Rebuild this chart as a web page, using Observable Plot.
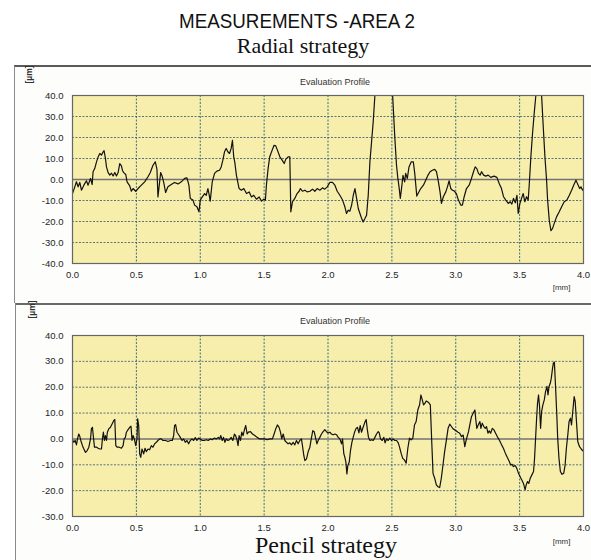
<!DOCTYPE html>
<html>
<head>
<meta charset="utf-8">
<script src="https://cdn.jsdelivr.net/npm/d3@7"></script>
<script src="https://cdn.jsdelivr.net/npm/@observablehq/plot@0.6"></script>
<style>
  html, body { margin: 0; padding: 0; background: #ffffff; }
  #page { position: relative; width: 591px; height: 560px; overflow: hidden; background: #ffffff; }
  .panel { position: absolute; background: #fdfdfb; }
  #panelTop { left: 14px; top: 65px; width: 577px; height: 236px; border-top: 2px solid #5a5a5a; border-left: 1px solid #8a8a8a; }
  #panelBottom { left: 15px; top: 303px; width: 576px; height: 257px; border-top: 2px solid #6a6a6a; border-left: 1px solid #8a8a8a; }
  .plotHost { position: absolute; left: 0; }
  #header, #footer { position: absolute; left: 0; top: 0; pointer-events: none; }
</style>
</head>
<body>
<div id="page">
  <div class="panel" id="panelTop"></div>
  <div class="panel" id="panelBottom"></div>
  <div class="plotHost" id="plotTop" style="top:66px"></div>
  <div class="plotHost" id="plotBottom" style="top:304px"></div>
</div>
<script>
// Evaluation profile, radial strategy: position along the trace [mm] and height [µm]
const radialX = [
  0, 0.018, 0.031, 0.044, 0.057, 0.070, 0.089, 0.109, 0.122, 0.141, 0.154, 0.161, 0.174, 0.188, 0.201, 0.214,
  0.227, 0.240, 0.247, 0.258, 0.266, 0.279, 0.292, 0.305, 0.318, 0.331, 0.344, 0.357, 0.370, 0.383, 0.391, 0.401,
  0.417, 0.427, 0.448, 0.461, 0.474, 0.495, 0.513, 0.539, 0.565, 0.591, 0.609, 0.630, 0.648, 0.661, 0.669, 0.682,
  0.690, 0.701, 0.714, 0.729, 0.747, 0.773, 0.799, 0.826, 0.852, 0.878, 0.896, 0.911, 0.922, 0.943, 0.956, 0.974,
  0.990, 1.000, 1.016, 1.034, 1.047, 1.060, 1.068, 1.078, 1.094, 1.112, 1.130, 1.151, 1.164, 1.177, 1.190, 1.203,
  1.216, 1.229, 1.242, 1.252, 1.262, 1.270, 1.283, 1.304, 1.322, 1.341, 1.362, 1.383, 1.401, 1.419, 1.440, 1.461,
  1.479, 1.497, 1.510, 1.518, 1.531, 1.544, 1.563, 1.578, 1.591, 1.604, 1.623, 1.641, 1.657, 1.670, 1.688, 1.701,
  1.709, 1.722, 1.740, 1.758, 1.774, 1.784, 1.800, 1.819, 1.837, 1.858, 1.879, 1.897, 1.915, 1.936, 1.957, 1.975,
  1.994, 2.014, 2.035, 2.054, 2.072, 2.093, 2.114, 2.132, 2.145, 2.158, 2.171, 2.185, 2.198, 2.211, 2.224, 2.237,
  2.250, 2.262, 2.275, 2.289, 2.302, 2.315, 2.328, 2.341, 2.354, 2.367, 2.380, 2.410, 2.450, 2.480, 2.500, 2.506,
  2.523, 2.536, 2.546, 2.556, 2.566, 2.577, 2.587, 2.600, 2.608, 2.621, 2.634, 2.652, 2.668, 2.679, 2.695, 2.705,
  2.726, 2.747, 2.765, 2.783, 2.799, 2.817, 2.835, 2.849, 2.862, 2.877, 2.888, 2.903, 2.922, 2.935, 2.948, 2.961,
  2.974, 2.987, 3.005, 3.021, 3.039, 3.052, 3.066, 3.084, 3.105, 3.123, 3.139, 3.152, 3.165, 3.178, 3.191, 3.202,
  3.218, 3.235, 3.254, 3.274, 3.300, 3.322, 3.340, 3.358, 3.374, 3.392, 3.411, 3.426, 3.439, 3.452, 3.466, 3.479,
  3.489, 3.502, 3.515, 3.528, 3.541, 3.554, 3.567, 3.575, 3.588, 3.601, 3.614, 3.627, 3.640, 3.655, 3.665, 3.672,
  3.685, 3.698, 3.711, 3.719, 3.732, 3.745, 3.758, 3.771, 3.789, 3.810, 3.829, 3.849, 3.870, 3.889, 3.907, 3.923,
  3.941, 3.954, 3.970, 3.980, 3.993, 4.000
];
const radialY = [
  -6.7, -3.5, -1.1, -3.5, -1.4, -5.1, -2.7, -0.6, -2.7, 0.5, -2.4, 3.7, 5.2, 8.4, 10.8, 12.4,
  11.6, 13.2, 13.7, 10.0, 6.0, 3.3, 2.1, 3.0, 1.7, 3.3, 1.7, 3.3, 7.6, 6.5, 4.3, 3.3,
  2.4, -1.1, -3.0, -5.6, -4.3, -5.6, -4.3, -2.7, -1.1, 1.3, 3.3, 6.8, 8.4, 4.9, -8.3, -1.1,
  3.3, 1.7, -1.4, -6.2, -3.5, -2.4, -1.4, -2.1, -1.1, 0.5, 0.8, -2.7, -9.0, -9.8, -12.2, -13.0,
  -15.4, -9.8, -8.3, -6.7, -7.5, -4.3, -6.7, -10.3, -1.1, 2.9, 4.0, 4.4, 6.0, 9.2, 13.2, 14.8,
  13.2, 12.4, 14.8, 18.7, 10.8, 8.4, 2.1, -4.3, -5.1, -4.3, -6.7, -5.9, -8.3, -7.5, -9.4, -8.3,
  -10.3, -9.4, -9.8, -2.7, 5.2, 10.8, 14.0, 16.3, 16.0, 14.0, 10.8, 9.2, 7.6, 9.7, 10.8, 10.8,
  -15.4, -10.6, -9.0, -6.7, -5.6, -4.3, -5.6, -5.1, -5.9, -5.6, -4.6, -5.6, -4.3, -5.1, -4.0, -4.6,
  -3.5, -1.4, -1.4, -2.7, -5.6, -7.5, -9.8, -13.0, -16.2, -14.6, -15.1, -12.2, -7.5, -4.3, -9.0, -13.8,
  -16.2, -18.3, -20.2, -18.6, -17.0, -7.5, 8.4, 17.9, 27.5, 40.0, 52.0, 60.0, 63.0, 60.0, 46.0, 40.0,
  20.0, 7.0, 1.0, -3.5, -9.0, -3.5, 2.0, -1.1, 2.9, 0.5, 6.0, 8.4, 8.4, 2.9, -7.9, -6.7,
  -4.3, -2.7, -0.3, 2.1, 3.7, 4.4, 4.8, 3.7, -0.3, -5.9, -11.4, -8.2, -5.9, -3.5, -0.6, -4.3,
  -5.1, -5.4, -6.7, -9.8, -12.2, -12.2, -8.2, -4.3, -2.7, 0.5, 3.7, 6.0, 5.2, 2.9, 2.1, 3.7,
  2.1, 1.6, 2.1, 1.0, 1.6, 1.0, -1.9, -4.3, -8.2, -9.8, -11.4, -10.6, -11.7, -9.0, -11.1, -7.5,
  -16.2, -11.4, -9.0, -6.7, -10.6, -8.2, -9.8, -2.7, 10.8, 21.9, 31.4, 40.0, 49.0, 53.0, 48.0, 40.0,
  25.0, 10.8, -0.3, -9.8, -19.4, -24.4, -23.3, -20.9, -17.8, -15.4, -13.0, -10.6, -9.8, -7.5, -5.1, -2.7,
  -0.3, -2.2, -4.3, -3.5, -5.1, -4.3
];

// Evaluation profile, pencil strategy: position [mm] and height [µm]
const pencilX = [
  0, 0.010, 0.021, 0.031, 0.039, 0.049, 0.057, 0.065, 0.078, 0.089, 0.102, 0.115, 0.128, 0.141, 0.148, 0.156,
  0.164, 0.172, 0.188, 0.201, 0.214, 0.227, 0.234, 0.242, 0.250, 0.258, 0.266, 0.273, 0.284, 0.297, 0.310, 0.323,
  0.331, 0.339, 0.349, 0.365, 0.383, 0.396, 0.404, 0.414, 0.422, 0.435, 0.448, 0.458, 0.466, 0.474, 0.484, 0.495,
  0.505, 0.510, 0.518, 0.526, 0.534, 0.544, 0.557, 0.568, 0.578, 0.591, 0.604, 0.617, 0.630, 0.643, 0.656, 0.669,
  0.682, 0.695, 0.708, 0.729, 0.747, 0.766, 0.781, 0.792, 0.799, 0.807, 0.818, 0.831, 0.844, 0.857, 0.870, 0.883,
  0.896, 0.909, 0.922, 0.935, 0.948, 0.961, 0.974, 0.987, 1.000, 1.016, 1.031, 1.047, 1.063, 1.078, 1.094, 1.109,
  1.125, 1.141, 1.151, 1.161, 1.172, 1.182, 1.193, 1.203, 1.216, 1.229, 1.242, 1.255, 1.268, 1.276, 1.286, 1.296,
  1.304, 1.315, 1.325, 1.335, 1.346, 1.356, 1.367, 1.377, 1.393, 1.409, 1.427, 1.445, 1.466, 1.487, 1.505, 1.523,
  1.544, 1.565, 1.578, 1.591, 1.604, 1.617, 1.628, 1.638, 1.649, 1.662, 1.675, 1.688, 1.701, 1.714, 1.727, 1.740,
  1.753, 1.766, 1.779, 1.792, 1.800, 1.811, 1.819, 1.832, 1.845, 1.858, 1.871, 1.881, 1.892, 1.902, 1.913, 1.923,
  1.936, 1.949, 1.962, 1.975, 1.988, 2.001, 2.014, 2.027, 2.040, 2.054, 2.067, 2.080, 2.093, 2.106, 2.114, 2.124,
  2.132, 2.140, 2.148, 2.155, 2.166, 2.176, 2.187, 2.197, 2.208, 2.218, 2.231, 2.242, 2.252, 2.262, 2.275, 2.289,
  2.299, 2.307, 2.317, 2.328, 2.341, 2.354, 2.367, 2.380, 2.393, 2.401, 2.411, 2.424, 2.437, 2.447, 2.458, 2.471,
  2.484, 2.497, 2.510, 2.523, 2.537, 2.550, 2.559, 2.572, 2.585, 2.598, 2.612, 2.625, 2.638, 2.651, 2.664, 2.677,
  2.690, 2.703, 2.717, 2.727, 2.738, 2.748, 2.759, 2.769, 2.785, 2.801, 2.811, 2.822, 2.835, 2.848, 2.861, 2.874,
  2.887, 2.900, 2.913, 2.927, 2.940, 2.953, 2.966, 2.979, 2.992, 3.005, 3.018, 3.031, 3.045, 3.058, 3.071, 3.079,
  3.089, 3.100, 3.110, 3.123, 3.136, 3.150, 3.157, 3.165, 3.176, 3.189, 3.197, 3.207, 3.220, 3.231, 3.241, 3.252,
  3.262, 3.273, 3.286, 3.299, 3.312, 3.325, 3.341, 3.357, 3.373, 3.388, 3.404, 3.420, 3.430, 3.441, 3.451, 3.465,
  3.478, 3.491, 3.504, 3.517, 3.530, 3.543, 3.551, 3.562, 3.572, 3.583, 3.596, 3.609, 3.617, 3.625, 3.633, 3.640,
  3.648, 3.656, 3.664, 3.672, 3.682, 3.693, 3.703, 3.714, 3.722, 3.730, 3.740, 3.748, 3.756, 3.764, 3.772, 3.780,
  3.790, 3.798, 3.808, 3.819, 3.832, 3.845, 3.856, 3.866, 3.877, 3.887, 3.898, 3.906, 3.916, 3.927, 3.935, 3.945,
  3.955, 3.969, 3.982, 3.995
];
const pencilY = [
  -0.3, -1.3, -0.6, -2.3, 0.0, 1.9, 1.0, -0.6, -2.6, -3.9, -5.2, -4.5, -3.2, 0.0, 3.9, 4.5,
  0.6, -3.2, -3.2, -3.6, -3.9, -3.9, 0.0, 2.6, -0.6, 1.3, -0.6, 2.6, 3.9, 4.5, 5.8, 7.1,
  7.5, -2.6, -3.2, -3.2, -3.6, -2.6, 0.0, 0.6, 2.6, 3.6, 4.5, 4.9, -0.6, 1.3, 0.0, -2.6,
  0.0, 7.8, 5.2, -5.8, -7.1, -3.9, -5.8, -3.6, -4.9, -3.9, -4.2, -2.6, -3.2, -1.9, -1.3, -0.6,
  0.0, 0.0, -0.6, -0.6, -1.0, -0.6, -0.6, 1.3, 5.2, 5.5, 2.6, 1.6, 0.6, -0.6, 0.0, -1.3,
  -0.6, -1.9, -0.6, 0.0, -0.6, 0.5, -0.6, 0.3, 0.0, -0.6, -0.6, -0.3, -0.6, 0.0, -0.3, 0.3,
  0.0, 0.6, 0.0, 1.3, -0.6, 0.6, -1.3, 0.0, -0.6, -0.3, 0.6, -0.6, 1.9, 1.3, 0.0, -2.6,
  1.3, -0.6, 2.6, 1.3, 3.6, 5.2, 1.9, 2.6, 2.8, 1.9, 1.3, 0.6, 0.0, 0.0, 0.0, -0.3,
  0.0, 0.0, 1.9, 3.9, 5.4, 4.5, 2.6, 0.0, 1.9, -0.6, -1.3, -1.9, -1.5, -2.3, -1.3, -2.3,
  -0.6, -1.9, -0.6, 0.0, -2.6, -6.5, -8.4, -7.7, -4.9, -3.2, 0.6, 3.2, 2.8, 0.6, -1.9, -0.6,
  0.6, 1.9, 2.8, 3.6, 2.8, 2.3, 2.6, 1.9, 1.6, 1.9, 1.6, 0.6, 0.0, -1.9, 0.0, -5.8,
  -7.1, -9.0, -13.5, -10.3, -9.0, -4.5, -1.3, 0.6, 2.6, 3.9, 4.5, 2.3, 5.2, 2.6, 4.5, 6.5,
  7.5, 3.9, 0.6, -0.6, -0.3, -0.6, 0.6, 1.9, 2.8, 2.3, 0.0, -0.6, 0.6, -1.5, 0.0, -0.6,
  0.3, -0.6, 0.0, -0.6, -0.6, -1.5, -3.0, -5.5, -7.5, -8.1, -9.4, -3.6, 0.3, -0.4, 0.3, 5.4,
  6.7, 11.2, 13.2, 17.0, 15.1, 13.2, 13.8, 14.7, 14.2, 13.2, 0.3, -13.3, -15.2, -17.8, -18.5, -18.8,
  -15.2, -10.1, -4.9, -0.4, 4.1, 5.7, 4.8, 3.9, 3.5, 3.1, 2.6, 2.2, 0.9, 1.5, -3.0, -1.0,
  0.9, 2.8, 5.4, 8.6, 9.9, 11.2, 7.4, 4.1, 5.4, 6.7, 4.1, 6.1, 4.8, 4.1, 4.8, 2.2,
  3.1, 2.2, 4.1, 3.5, 2.2, 0.9, -0.4, -2.1, -3.6, -5.5, -7.2, -8.8, -10.1, -9.8, -10.7, -10.3,
  -11.4, -13.3, -14.6, -15.9, -17.2, -19.7, -17.8, -16.5, -17.2, -15.2, -13.9, -12.6, -7.5, 0.3, 8.0, 13.8,
  17.0, 12.5, 4.1, 10.6, 13.2, 15.1, 18.3, 20.3, 17.0, 20.3, 21.5, 23.5, 26.7, 29.3, 29.7, 21.5,
  10.6, 0.3, -7.5, -12.6, -13.7, -13.3, -10.1, -3.6, 1.5, 6.7, 8.0, 5.4, 10.6, 16.4, 14.5, 6.7,
  -1.0, -3.0, -3.9, -4.6
];

// Axis ticks
const xTicks = [0, 0.5, 1.0, 1.5, 2.0, 2.5, 3.0, 3.5, 4.0];
const radialYTicks = [40, 30, 20, 10, 0, -10, -20, -30, -40];
const pencilYTicks = [40, 30, 20, 10, 0, -10, -20, -30];

// Text
const pageTitle = "MEASUREMENTS -AREA 2";
const radialCaption = "Radial strategy";
const pencilCaption = "Pencil strategy";
const panelTitle = "Evaluation Profile";
const yUnit = "[µm]";
const xUnit = "[mm]";

const fixed1 = d => d.toFixed(1);

function profilePanel({xs, ys, yTicks, height, marginTop, marginBottom, titleDy, unitDx, unitDy, mmDy}) {
  const yDomain = [d3.min(yTicks), d3.max(yTicks)];
  const xGrid = xTicks.filter(t => t > xTicks[0] && t < xTicks[xTicks.length - 1]);
  const yGrid = yTicks.filter(t => t !== 0 && t > yDomain[0] && t < yDomain[1]);
  const idx = d3.range(xs.length);
  return Plot.plot({
    width: 591,
    height,
    marginLeft: 72,
    marginRight: 8,
    marginTop,
    marginBottom,
    style: {fontFamily: "'Liberation Sans', Arial, sans-serif", fontSize: "9.5px", color: "#262626", background: "transparent", overflow: "visible"},
    x: {domain: [0, 4], ticks: xTicks, tickFormat: fixed1, tickSize: 0, tickPadding: 8, label: null},
    y: {domain: yDomain, ticks: yTicks, tickFormat: fixed1, tickSize: 0, tickPadding: 9, label: null},
    marks: [
      Plot.frame({fill: "#f8eeab", stroke: null}),
      Plot.ruleY(yGrid, {stroke: "#3c5f72", strokeWidth: 1, strokeDasharray: "2,1.5", strokeOpacity: 0.85}),
      Plot.ruleX(xGrid, {stroke: "#25627c", strokeWidth: 1, strokeDasharray: "2,1.5", strokeOpacity: 0.9}),
      Plot.ruleY([0], {stroke: "#727272", strokeWidth: 1.6}),
      Plot.line(idx, {x: i => xs[i], y: i => ys[i], stroke: "#111", strokeWidth: 1.2, clip: true}),
      Plot.frame({stroke: "#666", strokeWidth: 1.2}),
      Plot.text([panelTitle], {frameAnchor: "top", dx: 7, dy: titleDy, fontSize: 9, fill: "#333", text: d => d}),
      Plot.text([yUnit], {frameAnchor: "top-left", dx: unitDx, dy: unitDy, rotate: -90, fontSize: 8.5, fontWeight: "bold", fill: "#333", text: d => d}),
      Plot.text([xUnit], {frameAnchor: "bottom-right", dx: -13, dy: mmDy, fontSize: 8, fill: "#333", text: d => d})
    ]
  });
}

document.getElementById("plotTop").append(profilePanel({
  xs: radialX, ys: radialY, yTicks: radialYTicks,
  height: 234, marginTop: 29, marginBottom: 37,
  titleDy: -17, unitDx: -47, unitDy: -12, mmDy: 26
}));

document.getElementById("plotBottom").append(profilePanel({
  xs: pencilX, ys: pencilY, yTicks: pencilYTicks,
  height: 256, marginTop: 31, marginBottom: 44,
  titleDy: -18, unitDx: -44, unitDy: -17, mmDy: 27
}));

// Page title and strategy captions
const page = d3.select("#page");
const header = page.append("svg").attr("id", "header").attr("width", 591).attr("height", 66);
header.append("text")
  .attr("x", 297).attr("y", 28).attr("text-anchor", "middle")
  .attr("font-family", "'Liberation Sans', Arial, sans-serif")
  .attr("font-size", 21).attr("fill", "#111")
  .attr("textLength", 236).attr("lengthAdjust", "spacingAndGlyphs")
  .text(pageTitle);
header.append("text")
  .attr("x", 303).attr("y", 53).attr("text-anchor", "middle")
  .attr("font-family", "'Liberation Serif', 'Times New Roman', serif")
  .attr("font-size", 22).attr("fill", "#111")
  .text(radialCaption);

const footer = page.append("svg").attr("id", "footer").attr("width", 591).attr("height", 560);
footer.append("text")
  .attr("x", 326).attr("y", 553).attr("text-anchor", "middle")
  .attr("font-family", "'Liberation Serif', 'Times New Roman', serif")
  .attr("font-size", 24).attr("fill", "#111")
  .text(pencilCaption);
</script>
</body>
</html>
